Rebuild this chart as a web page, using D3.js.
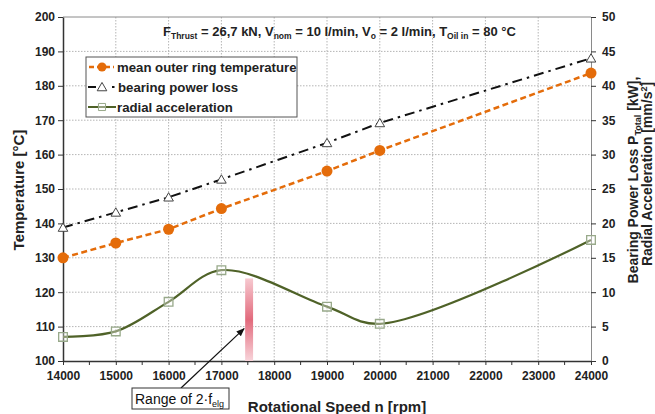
<!DOCTYPE html>
<html><head><meta charset="utf-8">
<script src="https://cdn.jsdelivr.net/npm/d3@7"></script>
<style>
html,body{margin:0;padding:0;background:#fff;}
svg{display:block;font-family:"Liberation Sans",Arial,sans-serif;}
</style></head>
<body><svg id="chart" width="655" height="414"></svg>
<script>
// ---- data ----
const speeds = [14000, 15000, 16000, 17000, 19000, 20000, 24000];
const temperature = [130, 134.3, 138.3, 144.3, 155.2, 161.2, 183.7];
const powerLoss = [19.4, 21.6, 23.8, 26.4, 31.7, 34.6, 44.0];
const radialAcc = [3.5, 4.3, 8.6, 13.2, 7.9, 5.4, 17.6];
const xTicks = [14000,15000,16000,17000,18000,19000,20000,21000,22000,23000,24000];
const yLeftTicks = [100,110,120,130,140,150,160,170,180,190,200];
const yRightTicks = [0,5,10,15,20,25,30,35,40,45,50];
const rangeSpeed = [17450, 17600];
const rangeTop = 12;
const arrowTip = [17430, 4.7];
const legendLabels = ["mean outer ring temperature", "bearing power loss", "radial acceleration"];

const svg = d3.select("#chart");
const L = 63, R = 591, T = 17, B = 361;
const x = d3.scaleLinear().domain([14000, 24000]).range([L, R]);
const yL = d3.scaleLinear().domain([100, 200]).range([B, T]);
const yR = d3.scaleLinear().domain([0, 50]).range([B, T]);

const orange = "#E46C0A", green = "#4F6228", sqStroke = "#98a98a";

// grid
const g = svg.append("g");
g.selectAll(".vg").data(xTicks.slice(1, -1)).join("line")
  .attr("x1", d => x(d)).attr("x2", d => x(d)).attr("y1", T).attr("y2", B)
  .attr("stroke", "#b5b5b5").attr("stroke-width", 1).attr("stroke-dasharray", "1.5,1.5");
g.selectAll(".hg").data(yLeftTicks.slice(1, -1)).join("line")
  .attr("x1", L).attr("x2", R).attr("y1", d => yL(d)).attr("y2", d => yL(d))
  .attr("stroke", "#b5b5b5").attr("stroke-width", 1).attr("stroke-dasharray", "1.5,1.5");
svg.append("line").attr("x1", L).attr("x2", R).attr("y1", T).attr("y2", T).attr("stroke", "#8a8a8a");

// axes
function styleAxis(sel) {
  sel.select(".domain").attr("stroke", "#333").attr("stroke-width", 1.5);
  sel.selectAll(".tick line").attr("stroke", "#333").attr("stroke-width", 1);
  sel.selectAll(".tick text").attr("font-size", "12px").attr("font-weight", "bold")
     .attr("fill", "#222").attr("font-family", "'Liberation Sans',Arial,sans-serif");
}
const ax = svg.append("g").attr("transform", `translate(0,${B})`)
  .call(d3.axisBottom(x).tickValues(xTicks).tickFormat(d3.format("d")).tickSize(4).tickSizeOuter(0).tickPadding(6));
styleAxis(ax);
svg.append("g").selectAll("line").data(xTicks.slice(0, -1).map(d => d + 500)).join("line")
  .attr("x1", d => x(d)).attr("x2", d => x(d)).attr("y1", B).attr("y2", B + 4)
  .attr("stroke", "#333");
const ayl = svg.append("g").attr("transform", `translate(${L},0)`)
  .call(d3.axisLeft(yL).tickValues(yLeftTicks).tickSize(5).tickSizeOuter(0).tickPadding(3));
styleAxis(ayl);
const ayr = svg.append("g").attr("transform", `translate(${R},0)`)
  .call(d3.axisRight(yR).tickValues(yRightTicks).tickSize(5).tickSizeOuter(0).tickPadding(6));
styleAxis(ayr);
ayr.select(".domain").attr("stroke", "#8a8a8a").attr("stroke-width", 1);

// range band (gradient)
const defs = svg.append("defs");
const grad = defs.append("linearGradient").attr("id", "rg").attr("x1", 0).attr("x2", 0).attr("y1", 0).attr("y2", 1);
grad.append("stop").attr("offset", "0%").attr("stop-color", "#f6c9d0");
grad.append("stop").attr("offset", "50%").attr("stop-color", "#e26a7c");
grad.append("stop").attr("offset", "100%").attr("stop-color", "#f8d4da");
svg.append("rect").attr("x", x(rangeSpeed[0])).attr("width", x(rangeSpeed[1]) - x(rangeSpeed[0]))
  .attr("y", yR(rangeTop)).attr("height", yR(0) - yR(rangeTop)).attr("fill", "url(#rg)");

const pts = (ys, scale) => speeds.map((s, i) => [x(s), scale(ys[i])]);

// lines
svg.append("path").attr("d", d3.line().curve(d3.curveCatmullRom.alpha(0.5))(pts(radialAcc, yR)))
  .attr("fill", "none").attr("stroke", green).attr("stroke-width", 2.2);
svg.append("path").attr("d", d3.line()(pts(powerLoss, yR)))
  .attr("fill", "none").attr("stroke", "#111").attr("stroke-width", 2).attr("stroke-dasharray", "10,5,2.5,5");
svg.append("path").attr("d", d3.line()(pts(temperature, yL)))
  .attr("fill", "none").attr("stroke", orange).attr("stroke-width", 2.5).attr("stroke-dasharray", "6,3.5");

// markers
const sq = d3.symbol().type(d3.symbolSquare).size(75);
const tri = d3.symbol().type(d3.symbolTriangle).size(40);
svg.append("g").selectAll("path").data(pts(radialAcc, yR)).join("path")
  .attr("transform", d => `translate(${d[0]},${d[1]})`).attr("d", sq)
  .attr("fill", "rgba(255,255,255,0.35)").attr("stroke", sqStroke).attr("stroke-width", 1.3);
svg.append("g").selectAll("path").data(pts(powerLoss, yR)).join("path")
  .attr("transform", d => `translate(${d[0]},${d[1] + 1})`).attr("d", tri)
  .attr("fill", "#fff").attr("stroke", "#444").attr("stroke-width", 1);
svg.append("g").selectAll("circle").data(pts(temperature, yL)).join("circle")
  .attr("cx", d => d[0]).attr("cy", d => d[1]).attr("r", 5.5).attr("fill", orange);

// legend
const lg = svg.append("g");
lg.append("rect").attr("x", 86).attr("y", 57).attr("width", 211).attr("height", 60)
  .attr("fill", "#fff").attr("stroke", "#555").attr("stroke-width", 1);
const ly = [67, 87, 107];
lg.append("line").attr("x1", 89).attr("x2", 114).attr("y1", ly[0]).attr("y2", ly[0])
  .attr("stroke", orange).attr("stroke-width", 2.5).attr("stroke-dasharray", "5,3");
lg.append("circle").attr("cx", 102).attr("cy", ly[0]).attr("r", 4.5).attr("fill", orange);
lg.append("line").attr("x1", 88).attr("x2", 96).attr("y1", ly[1]).attr("y2", ly[1]).attr("stroke", "#111").attr("stroke-width", 2);
lg.append("path").attr("transform", `translate(102,${ly[1] + 1})`).attr("d", tri)
  .attr("fill", "#fff").attr("stroke", "#444");
lg.append("line").attr("x1", 112).attr("x2", 114.5).attr("y1", ly[1]).attr("y2", ly[1]).attr("stroke", "#111").attr("stroke-width", 2);
lg.append("line").attr("x1", 88).attr("x2", 116).attr("y1", ly[2]).attr("y2", ly[2]).attr("stroke", green).attr("stroke-width", 2);
lg.append("path").attr("transform", `translate(102,${ly[2]})`).attr("d", d3.symbol().type(d3.symbolSquare).size(50))
  .attr("fill", "rgba(255,255,255,0.4)").attr("stroke", sqStroke);
lg.selectAll("text").data(legendLabels).join("text")
  .attr("x", (d, i) => i === 1 ? 118 : 117).attr("y", (d, i) => ly[i] + 5)
  .attr("font-size", "13.2px").attr("font-weight", "bold").attr("fill", "#222").text(d => d);

// title with subscripts
const tt = svg.append("text").attr("x", 163).attr("y", 36).attr("font-weight", "bold").attr("fill", "#222");
const parts = [["F", 0], ["Thrust", 1], [" = 26,7 kN, V", 0], ["nom", 1], [" = 10 l/min, V", 0], ["o", 1], [" = 2 l/min, T", 0], ["Oil in", 1], [" = 80 °C", 0]];
parts.forEach(([t, sub], i) => {
  const prevSub = i > 0 ? parts[i - 1][1] : 0;
  tt.append("tspan").text(t).attr("font-size", sub ? "8.5px" : "13px")
    .attr("dy", sub && !prevSub ? 3 : (!sub && prevSub ? -3 : 0));
});

// axis titles
svg.append("text").attr("transform", "translate(24,190) rotate(-90)").attr("text-anchor", "middle")
  .attr("font-size", "15px").attr("font-weight", "bold").attr("fill", "#222").text("Temperature [°C]");
svg.append("text").attr("x", 337).attr("y", 412).attr("text-anchor", "middle")
  .attr("font-size", "15px").attr("font-weight", "bold").attr("fill", "#222").text("Rotational Speed n [rpm]");
const rt1 = svg.append("text").attr("transform", "translate(638,180) rotate(-90)").attr("text-anchor", "middle")
  .attr("font-size", "14px").attr("font-weight", "bold").attr("fill", "#222");
rt1.append("tspan").text("Bearing Power Loss P");
rt1.append("tspan").text("Total").attr("font-size", "9px").attr("dy", 3);
rt1.append("tspan").text(" [kW],").attr("dy", -3);
const rt2 = svg.append("text").attr("transform", "translate(652,174) rotate(-90)").attr("text-anchor", "middle")
  .attr("font-size", "14px").attr("font-weight", "bold").attr("fill", "#222");
rt2.append("tspan").text("Radial Acceleration [mm/s");
rt2.append("tspan").text("2").attr("font-size", "9px").attr("dy", -5);
rt2.append("tspan").text("]").attr("dy", 5);

// annotation
defs.append("marker").attr("id", "ah").attr("viewBox", "0 0 10 10").attr("refX", 9).attr("refY", 5)
  .attr("markerWidth", 7).attr("markerHeight", 7).attr("orient", "auto")
  .append("path").attr("d", "M0,1 L10,5 L0,9 z").attr("fill", "#111");
svg.append("line").attr("x1", 181).attr("y1", 388).attr("x2", x(arrowTip[0])).attr("y2", yR(arrowTip[1]))
  .attr("stroke", "#111").attr("stroke-width", 1.2).attr("marker-end", "url(#ah)");
svg.append("rect").attr("x", 132).attr("y", 388).attr("width", 97).attr("height", 21)
  .attr("fill", "#fff").attr("stroke", "#333").attr("stroke-width", 1);
const at = svg.append("text").attr("x", 135).attr("y", 403.5).attr("font-size", "14px").attr("fill", "#111");
at.append("tspan").text("Range of 2·f");
at.append("tspan").text("elg").attr("font-size", "9px").attr("dy", 3);
</script></body></html>
